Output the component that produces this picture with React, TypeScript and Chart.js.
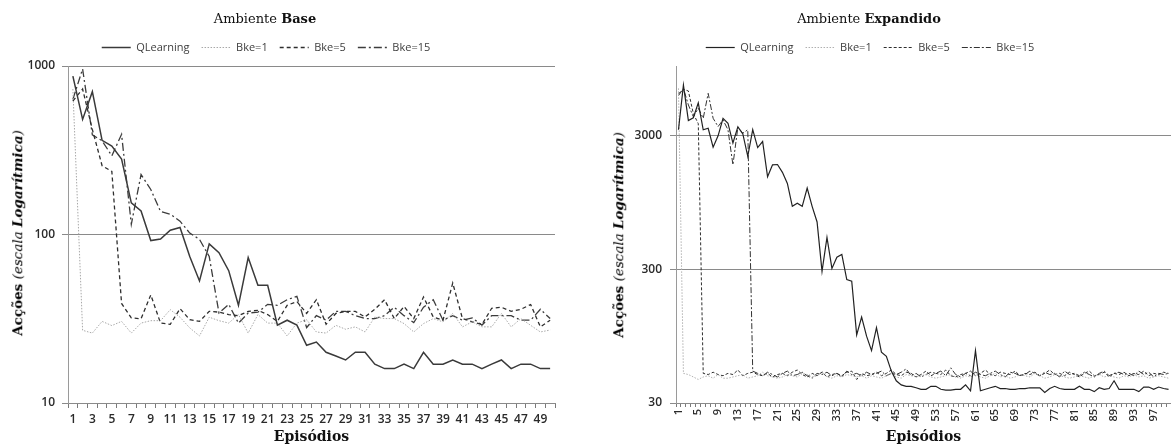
import React, { useEffect, useRef } from 'react';
import { Chart, registerables } from 'chart.js';

Chart.register(...registerables);

// ---------- data ----------
const seriesNames = ['QLearning', 'Bke=1', 'Bke=5', 'Bke=15'];

const baseEpisodes = Array.from({ length: 50 }, (_, i) => String(i + 1));
const expandedEpisodes = Array.from({ length: 100 }, (_, i) => String(i + 1));

const baseYTicks = [10, 100, 1000];
const expandedYTicks = [30, 300, 3000];

const baseQLearning = [
  870, 482, 704, 362, 335, 280, 154, 138, 92, 94,
  106, 110, 74, 53, 88, 78, 61, 38, 73, 50,
  50, 29, 31, 29, 22, 23, 20, 19, 18, 20,
  20, 17, 16, 16, 17, 16, 20, 17, 17, 18,
  17, 17, 16, 17, 18, 16, 17, 17, 16, 16,
];
const baseBke1 = [
  730, 27, 26, 30.5, 28.8, 30.5, 26, 29.8, 30.8, 30.8,
  35.8, 32.3, 27.9, 25, 32.3, 30.8, 29.8, 33.5, 26, 33.5,
  29.8, 29.8, 25, 29.8, 31.2, 26.4, 26, 28.9, 27.4, 28.3,
  26.4, 32.4, 31.7, 31.7, 29.6, 26.4, 29.6, 31.7, 30.3, 34,
  28.3, 30.3, 28.3, 28.3, 34, 28.3, 31.7, 28.9, 26.4, 27.1,
];
const baseBke5 = [
  620, 730, 420, 256, 237, 39, 32, 31.6, 43.8, 29.8,
  29.3, 36.3, 31.2, 30.5, 35, 34.6, 33.5, 33, 35, 35.5,
  33.5, 30.5, 38, 40, 34, 41, 29.3, 34, 35, 35,
  32.4, 36, 41, 31.7, 37.4, 31.7, 42.6, 32.4, 31, 51.5,
  31.7, 30.3, 29.3, 36.5, 37, 35, 36, 38.4, 28.3, 31,
];
const baseBke15 = [
  634, 960, 390, 360, 293, 393, 115, 227, 185, 137,
  132, 120, 102, 93.6, 74, 34.2, 38.5, 29.8, 34.2, 34.6,
  38.5, 38, 41, 43, 28, 33, 31, 35, 35, 33,
  31.7, 31.7, 33, 37, 33, 30, 37, 41, 31, 33,
  31, 32, 29, 33, 33, 33, 31, 31, 36, 31.7,
];

const expQLearning = [
  3330, 7200, 3900, 4100, 5300, 3330, 3420, 2470, 3000, 4060,
  3730, 2650, 3500, 3100, 2110, 3340, 2450, 2720, 1480, 1820,
  1830, 1600, 1320, 890, 940, 890, 1220, 890, 680, 290,
  520, 305, 370, 388, 252, 245, 97, 132, 95, 74,
  110, 72, 67, 52, 44, 41, 40, 40, 39, 38,
  38, 40, 40, 38, 37.5, 37.5, 38, 38, 41, 37,
  74, 37, 38, 39, 40, 38.5, 38.5, 38, 38, 38.5,
  38.5, 39, 39, 39, 36, 38.5, 40, 38.5, 38, 38,
  38, 40, 38, 38, 36.5, 39, 38, 38.5, 44, 38,
  38, 38, 38, 36.5, 39.5, 39.5, 38, 39.5, 38.5, 38,
];
const expBke1 = [
  6800, 50, 49, 47, 45, 47, 48, 46, 49, 46,
  46, 47, 48, 49, 46, 47, 48, 51, 48, 47,
  46, 47, 49, 48, 47, 50, 49, 47, 48, 52,
  47, 46, 48, 47, 49, 48, 47, 48, 46, 48,
  47, 46, 48, 50, 47, 46, 49, 48, 47, 48,
  49, 47, 46, 47, 48, 49, 47, 46, 48, 47,
  49, 47, 46, 48, 50, 47, 48, 46, 47, 49,
  48, 47, 50, 48, 46, 47, 49, 48, 47, 46,
  47, 48, 47, 46, 48, 49, 47, 48, 47, 46,
  48, 47, 49, 47, 48, 46, 47, 48, 47, 46,
];
const expBke5 = [
  6200, 6700, 6500, 4400, 3700, 50, 49, 51, 49, 48,
  50, 49, 53, 48, 50, 51, 49, 48, 50, 47,
  49, 50, 48, 51, 53, 49, 47, 50, 48, 51,
  47, 49, 50, 48, 51, 52, 45, 50, 48, 49,
  51, 48, 50, 53, 49, 48, 51, 50, 47, 49,
  52, 48, 50, 49, 53, 48, 47, 49, 50, 52,
  48, 50, 53, 49, 48, 51, 50, 49, 52, 48,
  50, 49, 51, 48, 50, 53, 49, 50, 48, 51,
  49, 47, 50, 52, 48, 49, 51, 47, 50, 49,
  51, 48, 50, 49, 52, 48, 50, 49, 51, 50,
];
const expBke15 = [
  6000, 6780, 5110, 4170, 4830, 4060, 6240, 4060, 3520, 3950,
  3330, 1820, 3480, 3140, 3330, 52, 50, 48, 51, 49,
  47, 50, 52, 48, 49, 51, 48, 46, 50, 49,
  51, 48, 50, 47, 52, 49, 50, 48, 51, 49,
  50, 52, 48, 50, 49, 51, 54, 48, 50, 47,
  49, 51, 50, 52, 48, 55, 49, 47, 50, 48,
  51, 49, 48, 50, 52, 49, 47, 51, 50, 48,
  49, 52, 50, 48, 51, 49, 50, 47, 52, 49,
  50, 48, 51, 49, 47, 50, 52, 48, 50, 51,
  49, 50, 48, 52, 49, 51, 47, 50, 49, 50,
];

// ---------- styles ----------
const baseStyles = [
  { color: '#3a3a3a', width: 1.5, dash: [] as number[] },
  { color: '#a8a8a8', width: 1, dash: [1.5, 1.5] },
  { color: '#2e2e2e', width: 1.3, dash: [4, 3] },
  { color: '#3c3c3c', width: 1.3, dash: [8, 3, 2, 3] },
];
const expStyles = [
  { color: '#222222', width: 1.2, dash: [] as number[] },
  { color: '#b0b0b0', width: 1, dash: [1.5, 1.5] },
  { color: '#2e2e2e', width: 1, dash: [3, 2] },
  { color: '#333333', width: 1, dash: [6, 2, 2, 2] },
];

const TICK_FONT = { family: 'Open Sans', size: 12, weight: '600' };
const TICK_COLOR = '#2a2a2a';
const GRID_COLOR = '#8a8a8a';

function legendGap(extra: number) {
  return {
    id: 'legendGap',
    beforeInit(chart: any) {
      const legend = chart.legend;
      if (!legend) return;
      const fit = legend.fit;
      legend.fit = function () {
        fit.call(this);
        this.height += extra;
      };
    },
  };
}

type PanelProps = {
  labels: string[];
  series: number[][];
  styles: { color: string; width: number; dash: number[] }[];
  yMin: number;
  yMax: number;
  yTicks: number[];
  labelEvery: number;
  rotate: boolean;
  left: number;
  width: number;
  padRight: number;
  yAxisWidth: number;
  yLabelPadding: number;
};

function LogPanel(p: PanelProps) {
  const ref = useRef<HTMLCanvasElement | null>(null);
  useEffect(() => {
    const canvas = ref.current;
    if (!canvas) return;
    const chart = new Chart(canvas, {
      type: 'line',
      data: {
        labels: p.labels,
        datasets: p.series.map((values, i) => ({
          label: seriesNames[i],
          data: values,
          borderColor: p.styles[i].color,
          backgroundColor: p.styles[i].color,
          borderWidth: p.styles[i].width,
          borderDash: p.styles[i].dash,
          pointRadius: 0,
          tension: 0,
          fill: false,
        })),
      },
      options: {
        animation: false,
        responsive: false,
        maintainAspectRatio: false,
        events: [],
        layout: { padding: { top: 30, right: p.padRight, left: 0, bottom: 0 } },
        plugins: {
          tooltip: { enabled: false },
          title: { display: false },
          legend: {
            display: true,
            position: 'top',
            align: 'center',
            labels: {
              usePointStyle: true,
              pointStyle: 'line',
              pointStyleWidth: 29,
              padding: 12,
              color: '#404040',
              font: { family: 'Open Sans', size: 11 },
              generateLabels: (chart: any) =>
                chart.data.datasets.map((ds: any, i: number) => ({
                  text: ds.label,
                  fillStyle: 'rgba(0,0,0,0)',
                  strokeStyle: ds.borderColor,
                  lineWidth: Math.max(1, ds.borderWidth),
                  lineDash: ds.borderDash,
                  lineCap: 'butt',
                  pointStyle: 'line',
                  hidden: false,
                  datasetIndex: i,
                  fontColor: '#404040',
                })),
            },
          },
        },
        scales: {
          x: {
            type: 'category',
            offset: true,
            grid: {
              display: true,
              drawOnChartArea: false,
              drawTicks: true,
              tickLength: p.rotate ? 4 : 5,
              offset: true,
              color: '#7a7a7a',
            },
            border: { display: true, color: '#8a8a8a', width: 1 },
            ticks: {
              autoSkip: false,
              minRotation: p.rotate ? 90 : 0,
              maxRotation: p.rotate ? 90 : 0,
              padding: p.rotate ? 2 : 4,
              color: TICK_COLOR,
              font: p.rotate ? { family: 'Open Sans', size: 11, weight: '600' } : TICK_FONT,
              callback: (_v: any, idx: number) => (idx % p.labelEvery === 0 ? p.labels[idx] : ''),
            },
            title: {
              display: true,
              text: 'Episódios',
              color: '#111',
              font: { family: 'DejaVu Serif', size: 14, weight: 'bold' },
              padding: { top: 0, bottom: 0 },
            },
            afterFit: (s: any) => {
              s.height = 43;
              s.paddingLeft = 0;
              s.paddingRight = 0;
            },
          },
          y: {
            type: 'logarithmic',
            min: p.yMin,
            max: p.yMax,
            afterBuildTicks: (s: any) => {
              s.ticks = p.yTicks.map((v) => ({ value: v }));
            },
            afterFit: (s: any) => {
              s.width = p.yAxisWidth;
              s.paddingTop = 0;
              s.paddingBottom = 0;
            },
            ticks: {
              color: TICK_COLOR,
              font: TICK_FONT,
              padding: p.yLabelPadding,
              callback: (v: any) => String(v),
            },
            grid: { color: GRID_COLOR, lineWidth: 1, tickLength: 6, drawTicks: true },
            border: { display: true, color: '#9a9a9a', width: 1 },
          },
        },
      },
      plugins: [legendGap(3)],
    } as any);
    return () => chart.destroy();
  }, []);
  return (
    <canvas
      ref={ref}
      width={p.width}
      height={446}
      style={{ position: 'absolute', left: p.left, top: 0, width: p.width, height: 446 }}
    />
  );
}

const serif = "'DejaVu Serif', serif";

function YTitle({ x, y }: { x: number; y: number }) {
  return (
    <div
      style={{
        position: 'absolute',
        left: x,
        top: y,
        transform: 'translate(-50%, -50%) rotate(-90deg)',
        whiteSpace: 'nowrap',
        fontFamily: serif,
        fontSize: 13.5,
        color: '#000',
        lineHeight: 1,
      }}
    >
      <b>Acções</b> <i>(escala <b>Logarítmica</b>)</i>
    </div>
  );
}

function Title({ x, plain, bold }: { x: number; plain: string; bold: string }) {
  return (
    <div
      style={{
        position: 'absolute',
        left: x,
        top: 10,
        transform: 'translateX(-50%)',
        whiteSpace: 'nowrap',
        fontFamily: serif,
        fontSize: 13,
        color: '#111',
        lineHeight: '18px',
      }}
    >
      {plain} <b>{bold}</b>
    </div>
  );
}

export default function App() {
  return (
    <div style={{ position: 'absolute', left: 0, top: 0, width: 1171, height: 446, overflow: 'hidden', background: '#fff' }}>
      <LogPanel
        labels={baseEpisodes}
        series={[baseQLearning, baseBke1, baseBke5, baseBke15]}
        styles={baseStyles}
        yMin={10}
        yMax={1000}
        yTicks={baseYTicks}
        labelEvery={2}
        rotate={false}
        left={-23}
        width={613}
        padRight={35}
        yAxisWidth={91}
        yLabelPadding={7}
      />
      <LogPanel
        labels={expandedEpisodes}
        series={[expQLearning, expBke1, expBke5, expBke15]}
        styles={expStyles}
        yMin={30}
        yMax={10000}
        yTicks={expandedYTicks}
        labelEvery={4}
        rotate={true}
        left={569}
        width={602}
        padRight={0}
        yAxisWidth={107}
        yLabelPadding={8}
      />
      <Title x={265} plain="Ambiente" bold="Base" />
      <Title x={869} plain="Ambiente" bold="Expandido" />
      <YTitle x={18} y={233} />
      <YTitle x={619} y={235} />
    </div>
  );
}
